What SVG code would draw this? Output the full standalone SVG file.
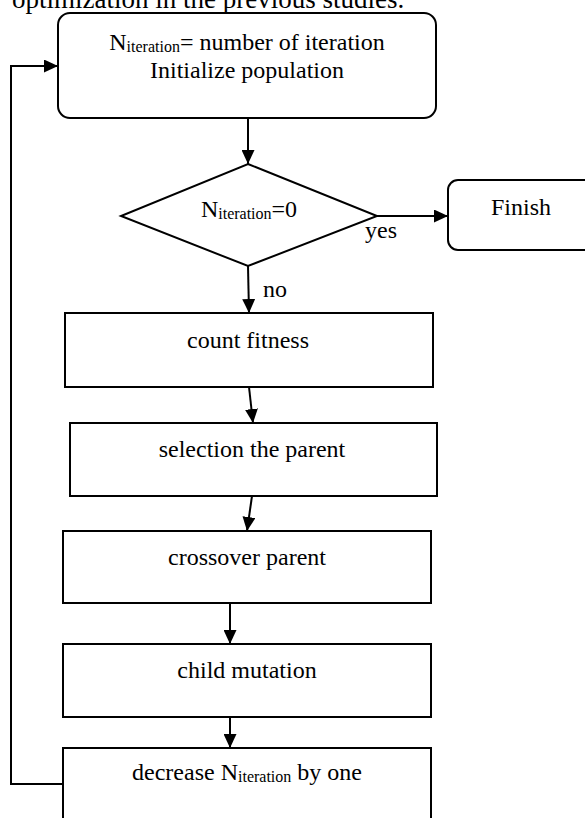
<svg xmlns="http://www.w3.org/2000/svg" width="585" height="818" viewBox="0 0 585 818">
  <style>
    .box { fill: #ffffff; stroke: #000000; stroke-width: 2; }
    .edge { fill: none; stroke: #000000; stroke-width: 2; }
    .lbl { font-family: "Liberation Serif", "Times New Roman", serif; font-size: 24px; fill: #000000; }
    .mid { text-anchor: middle; }
    .sub { font-size: 16px; }
  </style>
  <defs>
    <marker id="arrow" markerUnits="userSpaceOnUse" markerWidth="14" markerHeight="13" refX="14" refY="6.5" orient="auto">
      <path d="M0,0 L14,6.5 L0,13 z" fill="#000000"/>
    </marker>
  </defs>
  <rect width="585" height="818" fill="#ffffff"/>

  <!-- running paragraph text above the chart -->
  <text class="lbl" x="12" y="8" style="font-size:27px">optimization in the previous studies.</text>

  <!-- connectors -->
  <g id="connectors">
    <line class="edge" x1="248" y1="118" x2="248" y2="164" marker-end="url(#arrow)"/>
    <line class="edge" x1="377" y1="216" x2="448" y2="216" marker-end="url(#arrow)"/>
    <line class="edge" x1="248" y1="266" x2="249" y2="313" marker-end="url(#arrow)"/>
    <line class="edge" x1="249" y1="387" x2="253" y2="423" marker-end="url(#arrow)"/>
    <line class="edge" x1="252" y1="496" x2="247" y2="531" marker-end="url(#arrow)"/>
    <line class="edge" x1="230" y1="603" x2="230" y2="644" marker-end="url(#arrow)"/>
    <line class="edge" x1="230" y1="717" x2="230" y2="748" marker-end="url(#arrow)"/>
    <polyline class="edge" points="63,784 11,784 11,66 58,66" marker-end="url(#arrow)"/>
    <text class="lbl" x="365" y="238">yes</text>
    <text class="lbl" x="263" y="297">no</text>
  </g>

  <!-- start: initialisation -->
  <g id="init">
    <rect class="box" x="58" y="13" width="378" height="105" rx="12"/>
    <text class="lbl mid" x="247" y="50">N<tspan class="sub" dy="2">iteration</tspan><tspan dy="-2">= number of iteration</tspan></text>
    <text class="lbl mid" x="247" y="78">Initialize population</text>
  </g>

  <!-- loop condition -->
  <g id="check">
    <polygon class="box" points="248,164 377,216 248,266 121,216"/>
    <text class="lbl mid" x="249" y="217">N<tspan class="sub" dy="2">iteration</tspan><tspan dy="-2">=0</tspan></text>
  </g>

  <!-- end -->
  <g id="finish">
    <rect class="box" x="448" y="180" width="150" height="70" rx="10"/>
    <text class="lbl mid" x="521" y="215">Finish</text>
  </g>

  <g id="fitness">
    <rect class="box" x="65" y="313" width="368" height="74"/>
    <text class="lbl mid" x="248" y="348">count fitness</text>
  </g>

  <g id="selection">
    <rect class="box" x="70" y="423" width="367" height="73"/>
    <text class="lbl mid" x="252" y="457">selection the parent</text>
  </g>

  <g id="crossover">
    <rect class="box" x="63" y="531" width="368" height="72"/>
    <text class="lbl mid" x="247" y="565">crossover parent</text>
  </g>

  <g id="mutation">
    <rect class="box" x="63" y="644" width="368" height="73"/>
    <text class="lbl mid" x="247" y="678">child mutation</text>
  </g>

  <g id="decrease">
    <rect class="box" x="63" y="748" width="368" height="90"/>
    <text class="lbl mid" x="247" y="780">decrease N<tspan class="sub" dy="2">iteration</tspan><tspan dy="-2"> by one</tspan></text>
  </g>
</svg>
